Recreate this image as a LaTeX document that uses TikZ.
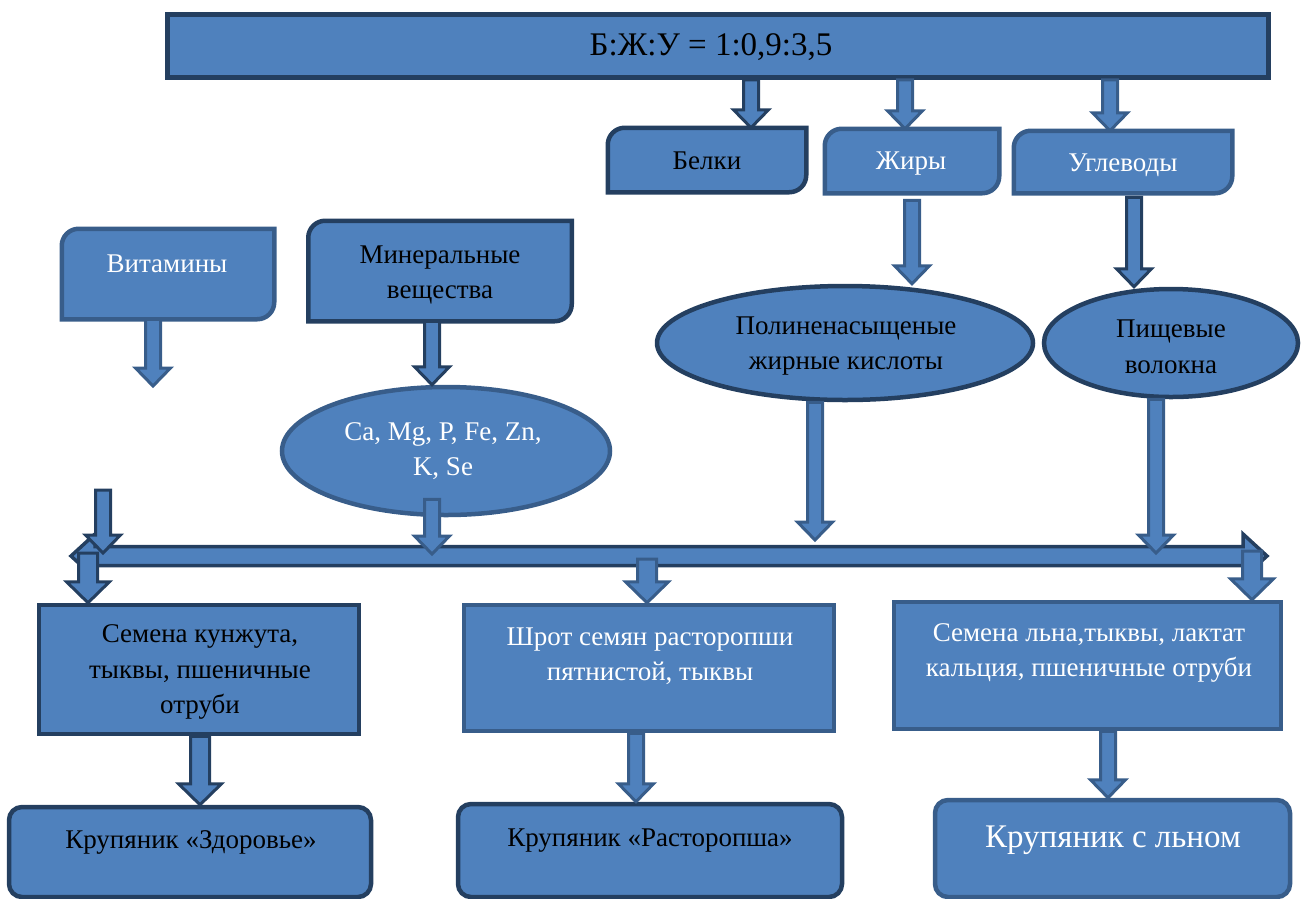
\documentclass[tikz,border=0pt]{standalone}
\usepackage{fontspec}
\setmainfont{Liberation Serif}
\usetikzlibrary{shapes.geometric,calc}
\definecolor{fillb}{HTML}{4F81BD}
\definecolor{bdark}{HTML}{243F60}
\definecolor{bmed}{HTML}{385D8A}
\tikzset{
  every node/.style={inner sep=0pt},
  shp/.style={fill=fillb, line width=4.5pt, outer sep=2.25pt},
  dk/.style={draw=bdark},
  md/.style={draw=bmed},
  plainbox/.style={shp, rectangle},
  roundbox/.style={shp, rectangle, rounded corners=13pt},
  ovalbox/.style={shp, ellipse},
  frame/.style={rectangle, outer sep=2.25pt},
  tb/.style={font=\fontsize{27}{35.5}\selectfont, text=black, align=center},
  tw/.style={tb, text=white},
  blockarr/.style={fill=fillb, line width=3pt, line join=miter},
}
% diagonal rounded box drawn around a named frame node (corner radius 17pt)
\newcommand\diagpath[2]{\path[fill=fillb, line width=4.5pt, draw=#2]
  ([xshift=17pt]#1.north west) -- (#1.north east) -- ([yshift=17pt]#1.south east)
  .. controls ([yshift=7.6pt]#1.south east) and ([xshift=-7.6pt]#1.south east) .. ([xshift=-17pt]#1.south east)
  -- (#1.south west) -- ([yshift=-17pt]#1.north west)
  .. controls ([yshift=-7.6pt]#1.north west) and ([xshift=7.6pt]#1.north west) .. ([xshift=17pt]#1.north west) -- cycle;}
% vertical block arrow: colour, x, from, to, shaft half, head half, head length
\newcommand\varr[7]{\draw[blockarr, draw=#1] let \p1=(#3), \p2=(#4) in
  (#2pt-#5pt,\y1) -- (#2pt+#5pt,\y1) -- (#2pt+#5pt,\y2+#7pt) -- (#2pt+#6pt,\y2+#7pt)
  -- (#2pt,\y2) -- (#2pt-#6pt,\y2+#7pt) -- (#2pt-#5pt,\y2+#7pt) -- cycle;}
\newcommand\sarr[4]{\varr{#1}{#2}{#3}{#4}{7.5}{17.5}{18}}
\newcommand\larr[4]{\varr{#1}{#2}{#3}{#4}{9.5}{21.5}{21}}
\begin{document}
\begin{tikzpicture}[x=1pt,y=-1pt]
\useasboundingbox (0,0) rectangle (1301,898);
% ---- shapes
\node[plainbox,dk,minimum width=1101,minimum height=63] (top) at (718,46) {};
\node[frame,minimum width=194,minimum height=60] (bel) at (707,160) {};
\diagpath{bel}{bdark}
\node[frame,minimum width=170,minimum height=60] (fat) at (912,161) {};
\diagpath{fat}{bmed}
\node[frame,minimum width=214,minimum height=58] (carb) at (1123,162) {};
\diagpath{carb}{bmed}
\node[frame,minimum width=208,minimum height=86] (vit) at (168,274) {};
\diagpath{vit}{bmed}
\node[frame,minimum width=259,minimum height=96] (min) at (440,271) {};
\diagpath{min}{bdark}
\node[ovalbox,md,minimum width=328,minimum height=128] (ca) at (446,451) {};
\node[ovalbox,dk,minimum width=376,minimum height=114] (pufa) at (845,343) {};
\node[ovalbox,dk,minimum width=254,minimum height=108] (fib) at (1171,343) {};
\node[plainbox,dk,minimum width=320,minimum height=129] (sesame) at (199,669.5) {};
\node[plainbox,md,minimum width=370,minimum height=126] (shrot) at (649,668) {};
\node[plainbox,md,minimum width=387,minimum height=127] (flax) at (1087.5,665.5) {};
\node[roundbox,dk,minimum width=362,minimum height=90] (zdr) at (190,852) {};
\node[roundbox,dk,minimum width=384,minimum height=93] (rast) at (650,850.5) {};
\node[roundbox,md,minimum width=355,minimum height=97] (len) at (1112.5,848.5) {};
% ---- free ends on the long bar
\coordinate (hl) at (71,556);
\coordinate (hr) at (1267,556);
\coordinate (vitEnd) at (153,386);
\coordinate (s8) at (103,490);
\coordinate (in8) at (103,553);
\coordinate (in9) at (432,554);
\coordinate (in10) at (815,540);
\coordinate (in11) at (1156,553);
\coordinate (out12) at (88,553);
\coordinate (out13) at (647,559);
\coordinate (out14) at (1252,551);
% ---- long double bar
\draw[blockarr, draw=bdark, line width=3.5pt] let \p1=(hl), \p2=(hr) in
  (\x1,\y1) -- (\x1+24pt,\y1+22pt) -- (\x1+24pt,\y1+9.5pt) -- (\x2-24pt,\y1+9.5pt)
  -- (\x2-24pt,\y1+22pt) -- (\x2,\y1) -- (\x2-24pt,\y1-22pt) -- (\x2-24pt,\y1-9.5pt)
  -- (\x1+24pt,\y1-9.5pt) -- (\x1+24pt,\y1-22pt) -- cycle;
% ---- arrows
\sarr{bdark}{751}{top.south}{bel.north}
\sarr{bmed}{905}{top.south}{fat.north}
\sarr{bmed}{1110}{top.south}{carb.north}
\sarr{bmed}{912}{[yshift=-7pt]fat.south}{pufa.north}
\sarr{bdark}{1134}{[yshift=-4pt]carb.south}{fib.north}
\sarr{bmed}{153}{vit.south}{vitEnd}
\sarr{bdark}{432}{min.south}{ca.north}
\sarr{bdark}{103}{s8}{in8}
\sarr{bmed}{432}{[yshift=18pt]ca.south}{in9}
\sarr{bmed}{815}{pufa.south}{in10}
\sarr{bmed}{1156}{fib.south}{in11}
\larr{bdark}{88}{out12}{sesame.north}
\larr{bmed}{647}{out13}{shrot.north}
\larr{bmed}{1252}{out14}{flax.north}
\larr{bdark}{200}{sesame.south}{zdr.north}
\sarr{bmed}{636}{shrot.south}{rast.north}
\sarr{bmed}{1108}{flax.south}{len.north}
% ---- texts
\node[tb,font=\fontsize{33}{36}\selectfont] (ttop) at (711,47) {Б:Ж:У = 1:0,9:3,5};
\node[tb] (tbel) at (707,161) {Белки};
\node[tw] (tfat) at (911,164) {Жиры};
\node[tw] (tcarb) at (1123,165) {Углеводы};
\node[tw] (tvit) at (167,264) {Витамины};
\node[tb] (tmin) at (440,275) {Минеральные\\вещества};
\node[tw] (tca) at (443,451) {Ca, Mg, P, Fe, Zn,\\K, Se};
\node[tb] (tpufa) at (846,346) {Полиненасыщеные\\жирные кислоты};
\node[tb] (tfib) at (1171,347) {Пищевые\\волокна};
\node[tb] (tses) at (200,672) {Семена кунжута,\\тыквы, пшеничные\\отруби};
\node[tw] (tshrot) at (650,656) {Шрот семян расторопши\\пятнистой, тыквы};
\node[tw] (tflax) at (1089,653) {Семена льна,тыквы, лактат\\кальция, пшеничные отруби};
\node[tb] (tzdr) at (191,842) {Крупяник «Здоровье»};
\node[tb] (trast) at (650,841) {Крупяник «Расторопша»};
\node[tw,font=\fontsize{33}{36}\selectfont] (tlen) at (1113,840) {Крупяник с льном};
\end{tikzpicture}
\end{document}
